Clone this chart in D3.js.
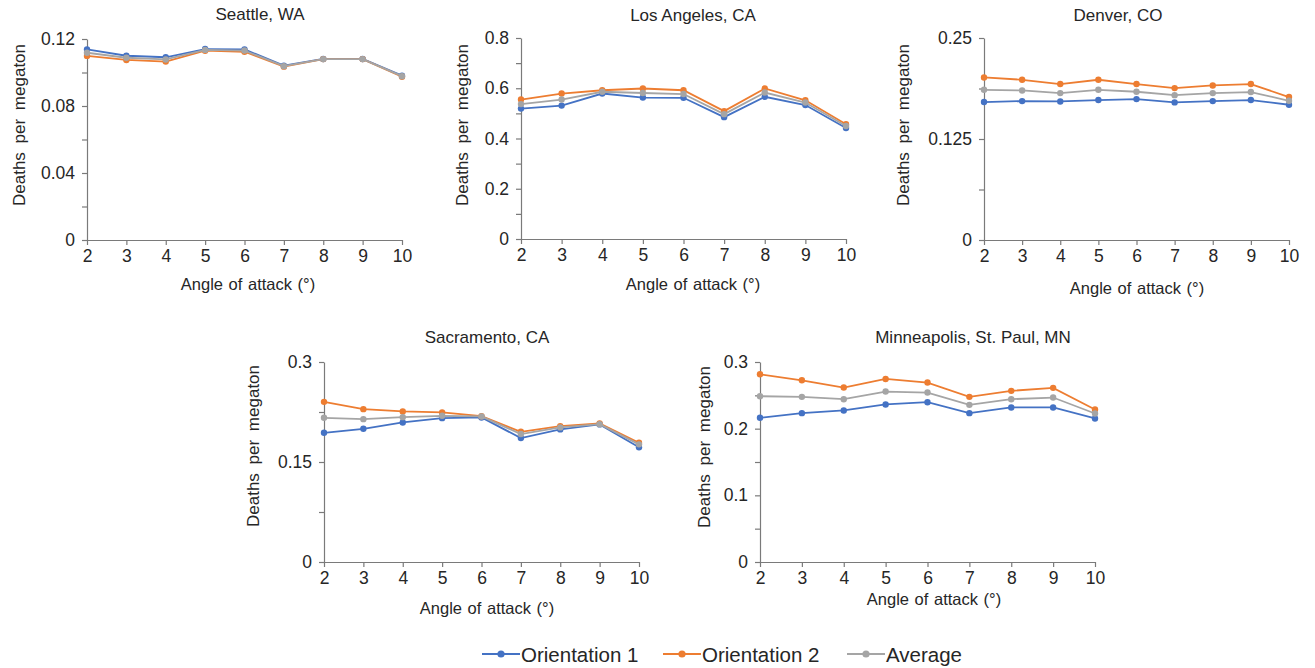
<!DOCTYPE html>
<html>
<head>
<meta charset="utf-8">
<script src="https://cdn.jsdelivr.net/npm/d3@7"></script>
<style>
  body { margin: 0; background: #fff; }
  text { font-family: "Liberation Sans", Arial, sans-serif; fill: #262626; }
</style>
</head>
<body>
<svg id="chart" width="1315" height="668"></svg>
<script>
// x categories shared by every panel
const angles = [2, 3, 4, 5, 6, 7, 8, 9, 10];
const seriesNames = ["Orientation 1", "Orientation 2", "Average"];
const seriesColors = ["#4472C4", "#ED7D31", "#A5A5A5"];

// values
const seattleO1 = [0.1138, 0.1100, 0.1091, 0.1140, 0.1138, 0.1041, 0.1081, 0.1081, 0.0981];
const seattleO2 = [0.1099, 0.1075, 0.1065, 0.1130, 0.1124, 0.1035, 0.1080, 0.1080, 0.0975];
const seattleAvg = [0.1118, 0.1088, 0.1078, 0.1135, 0.1131, 0.1038, 0.1080, 0.1080, 0.0978];

const laO1 = [0.519, 0.531, 0.579, 0.563, 0.562, 0.485, 0.566, 0.533, 0.442];
const laO2 = [0.555, 0.579, 0.592, 0.599, 0.592, 0.509, 0.599, 0.552, 0.457];
const laAvg = [0.537, 0.555, 0.586, 0.581, 0.577, 0.497, 0.583, 0.543, 0.450];

const denverO1 = [0.1707, 0.1719, 0.1715, 0.1732, 0.1744, 0.1703, 0.1719, 0.1732, 0.1674];
const denverO2 = [0.2012, 0.1983, 0.1930, 0.1983, 0.1930, 0.1880, 0.1913, 0.1930, 0.1769];
const denverAvg = [0.1859, 0.1851, 0.1818, 0.1859, 0.1835, 0.1793, 0.1818, 0.1831, 0.1723];

const sacO1 = [0.1938, 0.1998, 0.2093, 0.2158, 0.2168, 0.1859, 0.1989, 0.2064, 0.1720];
const sacO2 = [0.2402, 0.2293, 0.2258, 0.2243, 0.2188, 0.1953, 0.2038, 0.2078, 0.1789];
const sacAvg = [0.2163, 0.2143, 0.2173, 0.2193, 0.2183, 0.1919, 0.2019, 0.2068, 0.1765];

const minnO1 = [0.2163, 0.2233, 0.2273, 0.2363, 0.2397, 0.2233, 0.2318, 0.2318, 0.2153];
const minnO2 = [0.2816, 0.2726, 0.2617, 0.2746, 0.2692, 0.2477, 0.2567, 0.2612, 0.2288];
const minnAvg = [0.2487, 0.2477, 0.2442, 0.2557, 0.2542, 0.2357, 0.2442, 0.2467, 0.2228];

// y ticks (all tick marks) and the ones that carry a label
const seattleTicks = [0, 0.02, 0.04, 0.06, 0.08, 0.10, 0.12];
const seattleLabels = [0, 0.04, 0.08, 0.12];
const laTicks = [0, 0.1, 0.2, 0.3, 0.4, 0.5, 0.6, 0.7, 0.8];
const laLabels = [0, 0.2, 0.4, 0.6, 0.8];
const denverTicks = [0, 0.0625, 0.125, 0.1875, 0.25];
const denverLabels = [0, 0.125, 0.25];
const sacTicks = [0, 0.075, 0.15, 0.225, 0.3];
const sacLabels = [0, 0.15, 0.3];
const minnTicks = [0, 0.05, 0.1, 0.15, 0.2, 0.25, 0.3];
const minnLabels = [0, 0.1, 0.2, 0.3];

const panels = [
  { title: "Seattle,  WA", series: [seattleO1, seattleO2, seattleAvg], ticks: seattleTicks, labels: seattleLabels },
  { title: "Los Angeles,  CA", series: [laO1, laO2, laAvg], ticks: laTicks, labels: laLabels },
  { title: "Denver,  CO", series: [denverO1, denverO2, denverAvg], ticks: denverTicks, labels: denverLabels },
  { title: "Sacramento,  CA", series: [sacO1, sacO2, sacAvg], ticks: sacTicks, labels: sacLabels },
  { title: "Minneapolis,  St. Paul,  MN", series: [minnO1, minnO2, minnAvg], ticks: minnTicks, labels: minnLabels }
];

// where each panel sits on the page
const layout = [
  { left: 87, right: 402, top: 39, bottom: 240, titleX: 260, titleY: 20, yTitleX: 25, yTitleY: 125, xTitleX: 248, xTitleY: 290 },
  { left: 521, right: 846, top: 38, bottom: 239, titleX: 693, titleY: 21, yTitleX: 468, yTitleY: 125, xTitleX: 693, xTitleY: 290 },
  { left: 984, right: 1289, top: 38, bottom: 240, titleX: 1118, titleY: 21, yTitleX: 909, yTitleY: 125, xTitleX: 1137, xTitleY: 294 },
  { left: 324, right: 639, top: 362, bottom: 562, titleX: 487, titleY: 343, yTitleX: 259, yTitleY: 446, xTitleX: 487, xTitleY: 614 },
  { left: 760, right: 1095, top: 362, bottom: 562, titleX: 973, titleY: 343, yTitleX: 710, yTitleY: 447, xTitleX: 934, xTitleY: 605 }
];

const svg = d3.select("#chart");
const axisColor = "#7a7a7a";

panels.forEach((p, i) => {
  const L = layout[i];
  const x = d3.scaleLinear().domain([angles[0], angles[angles.length - 1]]).range([L.left, L.right]);
  const y = d3.scaleLinear().domain([0, p.ticks[p.ticks.length - 1]]).range([L.bottom, L.top]);
  const g = svg.append("g").attr("class", "panel");

  const labelSet = new Set(p.labels);
  const yAxis = g.append("g")
    .attr("transform", `translate(${L.left},0)`)
    .call(d3.axisLeft(y).tickValues(p.ticks).tickSize(5).tickSizeOuter(0).tickPadding(7)
      .tickFormat(d => labelSet.has(d) ? String(d) : ""));
  const xAxis = g.append("g")
    .attr("transform", `translate(0,${L.bottom})`)
    .call(d3.axisBottom(x).tickValues(angles).tickSize(5).tickSizeOuter(0).tickPadding(5));

  [yAxis, xAxis].forEach(a => {
    a.select(".domain").attr("stroke", axisColor).attr("stroke-width", 1.2);
    a.selectAll(".tick line").attr("stroke", axisColor).attr("stroke-width", 1.2);
    a.selectAll(".tick text").attr("font-size", 17.5).attr("fill", "#262626")
      .style("font-family", "'Liberation Sans', Arial, sans-serif");
  });

  const line = d3.line().x((d, j) => x(angles[j])).y(d => y(d));
  p.series.forEach((vals, s) => {
    g.append("path").datum(vals)
      .attr("d", line)
      .attr("fill", "none")
      .attr("stroke", seriesColors[s])
      .attr("stroke-width", 1.8);
    g.selectAll(null).data(vals).enter().append("circle")
      .attr("cx", (d, j) => x(angles[j]))
      .attr("cy", d => y(d))
      .attr("r", 3.2)
      .attr("fill", seriesColors[s]);
  });

  g.append("text")
    .attr("x", L.titleX).attr("y", L.titleY)
    .attr("text-anchor", "middle").attr("font-size", 17)
    .text(p.title);

  g.append("text")
    .attr("transform", `translate(${L.yTitleX},${L.yTitleY}) rotate(-90)`)
    .attr("text-anchor", "middle").attr("font-size", 17)
    .style("word-spacing", "4px")
    .text("Deaths per megaton");

  g.append("text")
    .attr("x", L.xTitleX).attr("y", L.xTitleY)
    .attr("text-anchor", "middle").attr("font-size", 16.5)
    .style("word-spacing", "1px")
    .text("Angle of attack (°)");
});

// legend
const legendX = [482, 663, 847];
const legend = svg.append("g").attr("class", "legend");
seriesNames.forEach((name, s) => {
  const lg = legend.append("g").attr("transform", `translate(${legendX[s]},654)`);
  lg.append("line").attr("x1", 0).attr("x2", 38).attr("y1", 0).attr("y2", 0)
    .attr("stroke", seriesColors[s]).attr("stroke-width", 2);
  lg.append("circle").attr("cx", 19).attr("cy", 0).attr("r", 3.6).attr("fill", seriesColors[s]);
  lg.append("text").attr("x", 39).attr("y", 7.5).attr("font-size", 20.5).text(name);
});
</script>
</body>
</html>
